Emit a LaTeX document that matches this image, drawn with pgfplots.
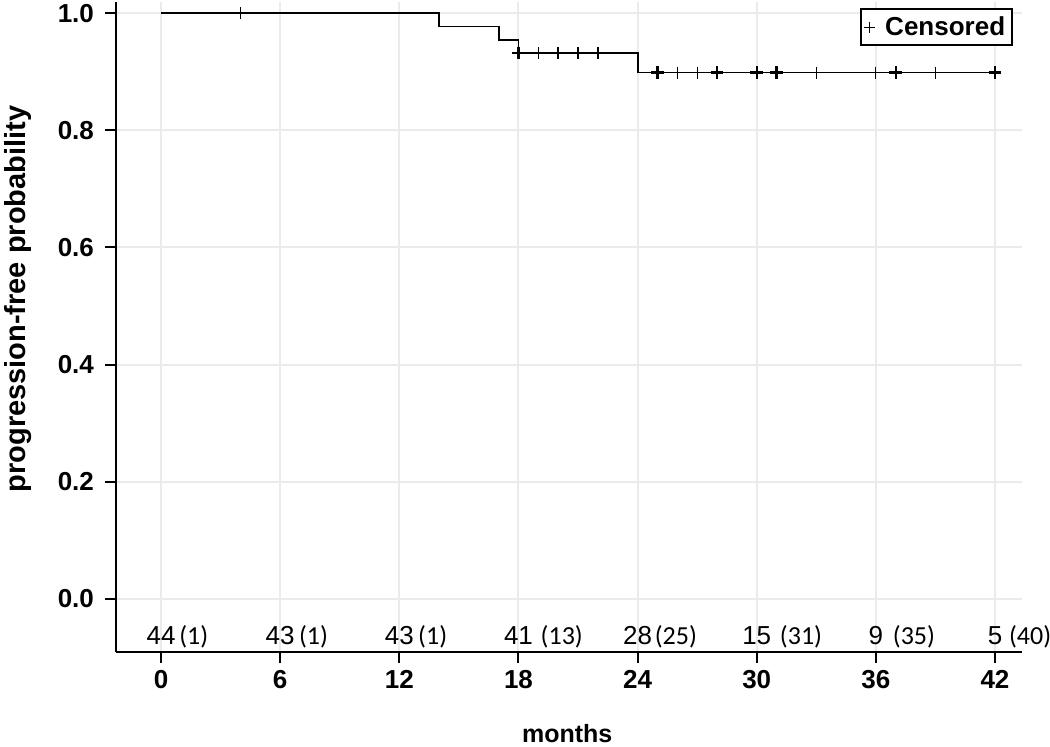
\documentclass[border=0pt]{standalone}
\usepackage{fontspec}
\setmainfont{Liberation Sans}
\newfontfamily\carlito{Carlito}
\usepackage{pgfplots}
\pgfplotsset{compat=1.18}
\begin{document}
\begin{tikzpicture}
\begin{axis}[
  scale only axis, width=453pt, height=325pt,
  xmin=-2.27, xmax=43.36, ymin=-0.0905, ymax=1.019,
  axis x line*=bottom, axis y line*=left,
  axis line style={line width=1pt, -},
  xtick={0,6,12,18,24,30,36,42}, ytick={0,0.2,0.4,0.6,0.8,1},
  tick align=outside, major tick length=5.5pt,
  tick style={line width=1pt, black},
  grid=major, major grid style={color=black!8, line width=1pt},
  /pgf/number format/assume math mode=true,
  ticklabel style={font=\bfseries\fontsize{13}{15}\selectfont},
  yticklabel style={xshift=-2pt, /pgf/number format/.cd, fixed, fixed zerofill, precision=1},
  xlabel={months}, ylabel={progression-free probability},
  xlabel style={at={(axis description cs:0.498,-0.125)}, anchor=center, font=\bfseries\fontsize{12.5}{15}\selectfont},
  ylabel style={at={(axis description cs:-0.108,0.543)}, anchor=center, font=\bfseries\fontsize{14.5}{16}\selectfont},
  legend style={at={(0.99,0.99)}, anchor=north east, draw=black, line width=0.8pt,
    font=\bfseries\fontsize{13}{15}\selectfont, inner sep=1.5pt},
  clip=false,
]
\addplot[const plot, black, line width=0.9pt, forget plot] coordinates {
  (0,1) (14,0.9773) (17,0.9545) (18,0.9318) (24,0.8985) (42,0.8985)};
\addplot[only marks, mark=+, mark size=3pt, line width=0.6pt, black, forget plot] coordinates {
  (4,1) (19,0.9318) (21,0.9318) (26,0.8985) (27,0.8985) (33,0.8985) (36,0.8985) (39,0.8985)};
\addplot[only marks, mark=+, mark size=3.2pt, line width=1.2pt, black, forget plot] coordinates {
  (18,0.9318) (20,0.9318) (22,0.9318) (25,0.8985) (28,0.8985) (30,0.8985) (31,0.8985) (37,0.8985) (42,0.8985)};
\addlegendimage{only marks, mark=+, mark size=2.8pt, line width=0.6pt, black}
\addlegendentry{\hspace{3pt}Censored}
\coordinate (O) at (rel axis cs:0,0);
\node[anchor=base, inner sep=0pt, font=\fontsize{13}{15}\selectfont] (r0) at (axis cs:0,-0.0785) {44};
\node[anchor=base west, inner sep=0pt, xshift=1.5pt, font=\carlito\fontsize{13}{15}\selectfont] at (r0.base east) {(1)};
\node[anchor=base, inner sep=0pt, font=\fontsize{13}{15}\selectfont] (r1) at (axis cs:6,-0.0785) {43};
\node[anchor=base west, inner sep=0pt, xshift=1.8pt, font=\carlito\fontsize{13}{15}\selectfont] at (r1.base east) {(1)};
\node[anchor=base, inner sep=0pt, font=\fontsize{13}{15}\selectfont] (r2) at (axis cs:12,-0.0785) {43};
\node[anchor=base west, inner sep=0pt, xshift=1.8pt, font=\carlito\fontsize{13}{15}\selectfont] at (r2.base east) {(1)};
\node[anchor=base, inner sep=0pt, font=\fontsize{13}{15}\selectfont] (r3) at (axis cs:18,-0.0785) {41};
\node[anchor=base west, inner sep=0pt, xshift=3.5pt, font=\carlito\fontsize{13}{15}\selectfont] at (r3.base east) {(13)};
\node[anchor=base, inner sep=0pt, font=\fontsize{13}{15}\selectfont] (r4) at (axis cs:24,-0.0785) {28};
\node[anchor=base west, inner sep=0pt, xshift=1pt, font=\carlito\fontsize{13}{15}\selectfont] at (r4.base east) {(25)};
\node[anchor=base, inner sep=0pt, font=\fontsize{13}{15}\selectfont] (r5) at (axis cs:30,-0.0785) {15};
\node[anchor=base west, inner sep=0pt, xshift=4pt, font=\carlito\fontsize{13}{15}\selectfont] at (r5.base east) {(31)};
\node[anchor=base, inner sep=0pt, font=\fontsize{13}{15}\selectfont] (r6) at (axis cs:36,-0.0785) {9};
\node[anchor=base west, inner sep=0pt, xshift=4.5pt, font=\carlito\fontsize{13}{15}\selectfont] at (r6.base east) {(35)};
\node[anchor=base, inner sep=0pt, font=\fontsize{13}{15}\selectfont] (r7) at (axis cs:42,-0.0785) {5};
\node[anchor=base west, inner sep=0pt, xshift=3pt, font=\carlito\fontsize{13}{15}\selectfont] at (r7.base east) {(40)};
\end{axis}
\pgfresetboundingbox
\path (O) ++(-58pt,-47pt) rectangle ++(525pt,373pt);
\end{tikzpicture}
\end{document}
